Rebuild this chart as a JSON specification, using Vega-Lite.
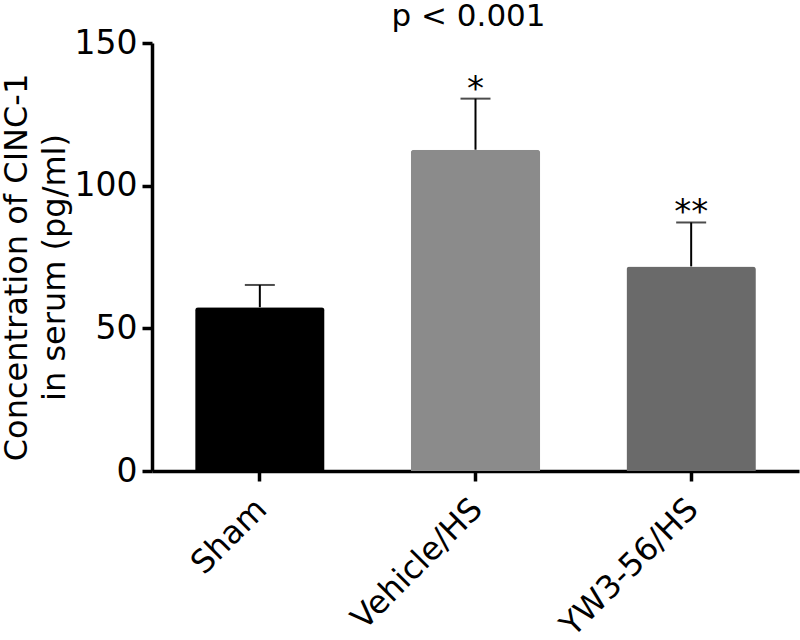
{
  "$schema": "https://vega.github.io/schema/vega-lite/v6.json",
  "width": 647,
  "height": 428,
  "autosize": {"type": "none"},
  "padding": {"left": 152, "top": 43, "right": 1, "bottom": 169},
  "background": "white",
  "config": {
    "view": {"stroke": null},
    "font": "DejaVu Sans",
    "axis": {"domainColor": "black", "tickColor": "black", "labelColor": "black", "titleColor": "black", "domainWidth": 3.5, "tickWidth": 3.5, "tickSize": 10, "grid": false}
  },
  "title": {"text": "p < 0.001", "fontSize": 31, "font": "DejaVu Sans", "fontWeight": "normal", "color": "black", "anchor": "middle", "baseline": "alphabetic", "offset": 4, "dx": -7, "dy": 34},
  "data": {
    "values": [
      {"group": "Sham", "mean": 57.4, "upper": 65.2, "sig": ""},
      {"group": "Vehicle/HS", "mean": 112.6, "upper": 130.5, "sig": "*"},
      {"group": "YW3-56/HS", "mean": 71.7, "upper": 87.1, "sig": "**"}
    ]
  },
  "encoding": {
    "x": {
      "field": "group", "type": "nominal", "sort": null,
      "scale": {"paddingInner": 0.4, "paddingOuter": 0.2},
      "axis": {"title": null, "labelAngle": -45, "labelAlign": "right", "labelBaseline": "top", "labelFontSize": 32, "labelPadding": 12, "labelOffset": -9}
    }
  },
  "layer": [
    {
      "mark": {"type": "bar", "cornerRadiusTopLeft": 3, "cornerRadiusTopRight": 3},
      "encoding": {
        "y": {
          "field": "mean", "type": "quantitative",
          "scale": {"domain": [0, 150], "nice": false},
          "axis": {"values": [0, 50, 100, 150], "labelFontSize": 33, "labelPadding": 5, "title": ["Concentration of CINC-1", "in serum (pg/ml)"], "titleFontSize": 32, "titleFontWeight": "normal", "titleLineHeight": 38, "titlePadding": 3, "titleY": 224}
        },
        "color": {"field": "group", "type": "nominal", "sort": null, "scale": {"range": ["#000000", "#8b8b8b", "#6a6a6a"]}, "legend": null}
      }
    },
    {
      "mark": {"type": "rule", "color": "black", "strokeWidth": 2},
      "encoding": {"y": {"field": "mean", "type": "quantitative"}, "y2": {"field": "upper"}}
    },
    {
      "mark": {"type": "tick", "color": "black", "size": 30, "thickness": 2},
      "encoding": {"y": {"field": "upper", "type": "quantitative"}}
    },
    {
      "mark": {"type": "text", "color": "black", "fontSize": 34, "baseline": "alphabetic", "dy": 1},
      "encoding": {"y": {"field": "upper", "type": "quantitative"}, "text": {"field": "sig"}}
    }
  ]
}
